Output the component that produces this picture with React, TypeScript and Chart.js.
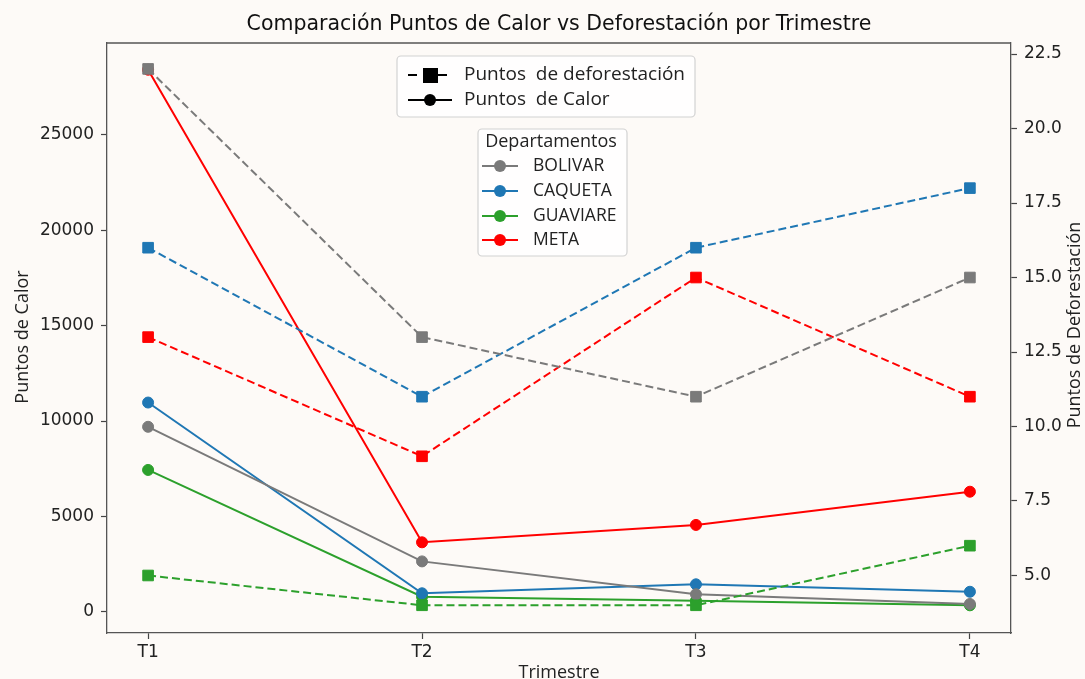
import { useEffect, useRef } from "react";
import { Chart, registerables } from "chart.js";

Chart.register(...registerables);

// Quarters on the x axis
const quarters = ["T1", "T2", "T3", "T4"];

// Departments and their colours
const departments = ["BOLIVAR", "CAQUETA", "GUAVIARE", "META"];
const deptColors = ["#7a7a7a", "#1f77b4", "#2ca02c", "#ff0000"];

// Heat points (left axis)
const heatBolivar = [9700, 2650, 930, 420];
const heatCaqueta = [10970, 980, 1450, 1060];
const heatGuaviare = [7440, 800, 590, 350];
const heatMeta = [28400, 3650, 4560, 6300];

// Deforestation points (right axis)
const defoBolivar = [22, 13, 11, 15];
const defoCaqueta = [16, 11, 16, 18];
const defoGuaviare = [5, 4, 4, 6];
const defoMeta = [13, 9, 15, 11];

// Tick values
const heatTicks = [0, 5000, 10000, 15000, 20000, 25000];
const defoTicks = [5, 7.5, 10, 12.5, 15, 17.5, 20, 22.5];

const heatSeries = [heatBolivar, heatCaqueta, heatGuaviare, heatMeta];
const defoSeries = [defoBolivar, defoCaqueta, defoGuaviare, defoMeta];

const W = 1085;
const H = 679;
const BG = "#fdfaf7";
const TICK_FONT = "'DejaVu Sans', sans-serif";
const LABEL_FONT = "'Open Sans', 'DejaVu Sans', sans-serif";

const toPoints = (vals: number[]) => vals.map((v, i) => ({ x: i, y: v }));

const drawBox = (ctx: CanvasRenderingContext2D, x: number, y: number, w: number, h: number) => {
  const r = 4;
  ctx.save();
  ctx.beginPath();
  ctx.moveTo(x + r, y);
  ctx.arcTo(x + w, y, x + w, y + h, r);
  ctx.arcTo(x + w, y + h, x, y + h, r);
  ctx.arcTo(x, y + h, x, y, r);
  ctx.arcTo(x, y, x + w, y, r);
  ctx.closePath();
  ctx.fillStyle = "rgba(255,255,255,0.8)";
  ctx.fill();
  ctx.strokeStyle = "#d2d2d2";
  ctx.lineWidth = 1.2;
  ctx.stroke();
  ctx.restore();
};

const decorations = {
  id: "decorations",
  beforeDraw(chart: Chart) {
    const ctx = chart.ctx;
    ctx.save();
    ctx.fillStyle = BG;
    ctx.fillRect(0, 0, chart.width, chart.height);
    ctx.restore();
  },
  afterDraw(chart: Chart) {
    const ctx = chart.ctx;
    const area = chart.chartArea;
    ctx.save();

    // top spine
    ctx.strokeStyle = "#555";
    ctx.lineWidth = 1.3;
    ctx.beginPath();
    ctx.moveTo(area.left, area.top);
    ctx.lineTo(area.right, area.top);
    ctx.stroke();

    // title
    ctx.fillStyle = "#111";
    ctx.textAlign = "center";
    ctx.textBaseline = "middle";
    ctx.font = `20.5px ${TICK_FONT}`;
    ctx.fillText("Comparación Puntos de Calor vs Deforestación por Trimestre", (area.left + area.right) / 2, 25);

    // axis titles
    ctx.font = `18px ${LABEL_FONT}`;
    ctx.fillStyle = "#222";
    ctx.fillText("Trimestre", (area.left + area.right) / 2, 673);
    ctx.save();
    ctx.translate(23, 337);
    ctx.rotate(-Math.PI / 2);
    ctx.fillText("Puntos de Calor", 0, 0);
    ctx.restore();
    ctx.save();
    ctx.translate(1075, 325);
    ctx.rotate(-Math.PI / 2);
    ctx.fillText("Puntos de Deforestación", 0, 0);
    ctx.restore();

    // legend: line styles
    drawBox(ctx, 397, 56, 298, 61);
    ctx.strokeStyle = "#000";
    ctx.fillStyle = "#000";
    ctx.lineWidth = 2;
    ctx.setLineDash([9, 6]);
    ctx.beginPath();
    ctx.moveTo(408, 75);
    ctx.lineTo(452, 75);
    ctx.stroke();
    ctx.setLineDash([]);
    ctx.fillRect(423, 68, 15, 15);
    ctx.beginPath();
    ctx.moveTo(408, 100);
    ctx.lineTo(452, 100);
    ctx.stroke();
    ctx.beginPath();
    ctx.arc(430, 100, 6, 0, Math.PI * 2);
    ctx.fill();
    ctx.font = `19px ${LABEL_FONT}`;
    ctx.textAlign = "left";
    ctx.fillStyle = "#222";
    ctx.fillText("Puntos  de deforestación", 464, 75);
    ctx.fillText("Puntos  de Calor", 464, 100);

    // legend: departments
    drawBox(ctx, 478, 129, 149, 127);
    ctx.font = `18px ${LABEL_FONT}`;
    ctx.textAlign = "center";
    ctx.fillText("Departamentos", 551, 142);
    ctx.font = `17.5px ${LABEL_FONT}`;
    const rowsY = [166, 191, 216, 240];
    departments.forEach((d, i) => {
      const y = rowsY[i];
      ctx.strokeStyle = deptColors[i];
      ctx.fillStyle = deptColors[i];
      ctx.lineWidth = 2;
      ctx.beginPath();
      ctx.moveTo(482, y);
      ctx.lineTo(518, y);
      ctx.stroke();
      ctx.beginPath();
      ctx.arc(500, y, 6, 0, Math.PI * 2);
      ctx.fill();
      ctx.fillStyle = "#222";
      ctx.textAlign = "left";
      ctx.fillText(d, 533, y);
    });

    ctx.restore();
  },
};

export default function App() {
  const ref = useRef<HTMLCanvasElement>(null);

  useEffect(() => {
    if (!ref.current) return;

    const defoSets = departments.map((d, i) => ({
      label: `${d} deforestación`,
      data: toPoints(defoSeries[i]),
      yAxisID: "y2",
      borderColor: deptColors[i],
      backgroundColor: deptColors[i],
      borderWidth: 2,
      borderDash: [8, 4],
      pointStyle: "rect" as const,
      pointRadius: 7.5,
      pointBorderWidth: 1,
      order: 0,
    }));
    const heatSets = departments.map((d, i) => ({
      label: `${d} calor`,
      data: toPoints(heatSeries[i]),
      yAxisID: "y",
      borderColor: deptColors[i],
      backgroundColor: deptColors[i],
      borderWidth: 2,
      pointStyle: "circle" as const,
      pointRadius: 5.5,
      pointBorderWidth: 1,
      order: 1,
    }));

    const tickFont = { family: TICK_FONT, size: 17 };
    const gridOpts = { drawOnChartArea: false, tickLength: 6, tickColor: "#444", tickWidth: 1.2 };
    const borderOpts = { display: true, color: "#555", width: 1.3 };

    const chart = new Chart(ref.current, {
      type: "line",
      data: { datasets: [...defoSets, ...heatSets] as any },
      plugins: [decorations],
      options: {
        animation: false,
        responsive: false,
        devicePixelRatio: 1,
        layout: { padding: { top: 43, left: 0, right: 0, bottom: 0 } },
        plugins: {
          legend: { display: false },
          title: { display: false },
          tooltip: { enabled: false },
        },
        scales: {
          x: {
            type: "linear",
            min: -0.15,
            max: 3.15,
            afterBuildTicks: (s: any) => {
              s.ticks = quarters.map((_, i) => ({ value: i }));
            },
            afterFit: (s: any) => {
              s.height = 46;
            },
            ticks: {
              callback: (v: any) => quarters[v] ?? "",
              font: tickFont,
              color: "#222",
              padding: 3,
              maxRotation: 0,
            },
            grid: gridOpts,
            border: borderOpts,
          },
          y: {
            type: "linear",
            position: "left",
            min: -1100,
            max: 29800,
            afterBuildTicks: (s: any) => {
              s.ticks = heatTicks.map((v) => ({ value: v }));
            },
            afterFit: (s: any) => {
              s.width = 107;
            },
            ticks: {
              callback: (v: any) => String(v),
              font: tickFont,
              color: "#222",
              padding: 7,
            },
            grid: gridOpts,
            border: borderOpts,
          },
          y2: {
            type: "linear",
            position: "right",
            min: 3.07,
            max: 22.87,
            afterBuildTicks: (s: any) => {
              s.ticks = defoTicks.map((v) => ({ value: v }));
            },
            afterFit: (s: any) => {
              s.width = 74;
            },
            ticks: {
              callback: (v: any) => Number(v).toFixed(1),
              font: tickFont,
              color: "#222",
              padding: 7,
            },
            grid: gridOpts,
            border: borderOpts,
          },
        },
      } as any,
    });

    return () => chart.destroy();
  }, []);

  return (
    <div style={{ position: "fixed", left: 0, top: 0, width: W, height: H, background: BG }}>
      <canvas ref={ref} width={W} height={H} style={{ display: "block", width: W, height: H }} />
    </div>
  );
}
